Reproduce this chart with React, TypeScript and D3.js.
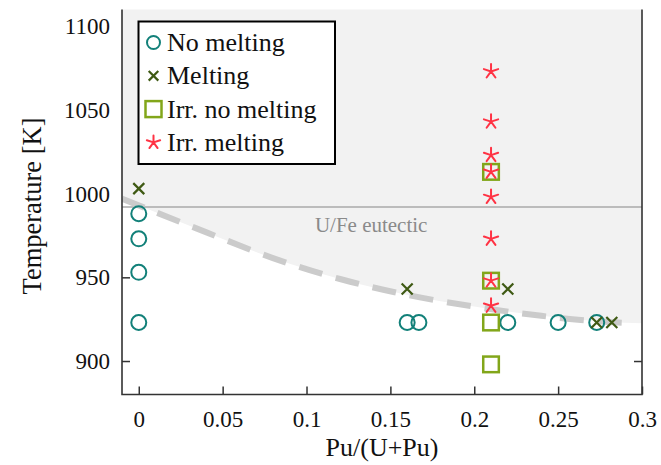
import { useEffect, useRef } from "react";
import * as d3 from "d3";

const W = 661;
const H = 465;
const FONT = "'Liberation Serif', 'Times New Roman', serif";

// series (x = Pu/(U+Pu), T in K)
const noMeltX = [0, 0, 0, 0, 0.16, 0.167, 0.22, 0.25, 0.273];
const noMeltT = [988, 973, 953, 923, 923, 923, 923, 923, 923];
const meltX = [0, 0.16, 0.22, 0.273, 0.282];
const meltT = [1003, 943, 943, 923, 923];
const irrNoMeltX = [0.21, 0.21, 0.21, 0.21];
const irrNoMeltT = [1013, 948, 923, 898];
const irrMeltX = [0.21, 0.21, 0.21, 0.21, 0.21, 0.21, 0.21, 0.21];
const irrMeltT = [1073, 1043, 1023, 1013, 998, 973, 948, 933];

// boundary of the shaded region (dashed) and eutectic line
const boundaryX = [-0.01, 0.04, 0.08, 0.12, 0.16, 0.2, 0.24, 0.27, 0.29, 0.3];
const boundaryT = [997, 977, 961.5, 949, 939.5, 932.5, 927, 924, 922.8, 922.6];
const eutecticT = 992;

const xTickValues = [0, 0.05, 0.1, 0.15, 0.2, 0.25, 0.3];
const xTickLabels = ["0", "0.05", "0.1", "0.15", "0.2", "0.25", "0.3"];
const yTickValues = [900, 950, 1000, 1050, 1100];
const yTickLabels = ["900", "950", "1000", "1050", "1100"];

const legendLabels = ["No melting", "Melting", "Irr. no melting", "Irr. melting"];

const C_CIRCLE = "#128079";
const C_CROSS = "#3f5a14";
const C_SQUARE = "#82a61a";
const C_STAR = "#ff3344";

function drawCircle(g, x, y, r) {
  g.append("circle").attr("cx", x).attr("cy", y).attr("r", r)
    .attr("fill", "none").attr("stroke", C_CIRCLE).attr("stroke-width", 2);
}

function drawCross(g, x, y, s) {
  g.append("path")
    .attr("d", `M${x - s},${y - s}L${x + s},${y + s}M${x - s},${y + s}L${x + s},${y - s}`)
    .attr("stroke", C_CROSS).attr("stroke-width", 2.2).attr("fill", "none");
}

function drawSquare(g, x, y, s) {
  g.append("rect").attr("x", x - s).attr("y", y - s).attr("width", 2 * s).attr("height", 2 * s)
    .attr("fill", "none").attr("stroke", C_SQUARE).attr("stroke-width", 2.5);
}

function drawStar(g, x, y, r) {
  let d = "";
  for (let k = 0; k < 5; k++) {
    const a = -Math.PI / 2 + (k * 2 * Math.PI) / 5;
    d += `M${x},${y}L${x + r * Math.cos(a)},${y + r * Math.sin(a)}`;
  }
  g.append("path").attr("d", d).attr("stroke", C_STAR).attr("stroke-width", 2)
    .attr("fill", "none").attr("stroke-linecap", "round");
}

function buildChart(svgEl) {
  const margin = { top: 9.5, right: 19, bottom: 70.5, left: 122 };
  const innerW = W - margin.left - margin.right;
  const innerH = H - margin.top - margin.bottom;

  const svg = d3.select(svgEl);
  svg.selectAll("*").remove();

  const defs = svg.append("defs");
  defs.append("clipPath").attr("id", "plot-clip")
    .append("rect").attr("width", innerW).attr("height", innerH);

  const g = svg.append("g").attr("transform", `translate(${margin.left},${margin.top})`);

  const x = d3.scaleLinear().domain([-0.01, 0.3]).range([0, innerW]);
  const y = d3.scaleLinear().domain([880, 1110]).range([innerH, 0]);

  const styleAxis = (ax) => {
    ax.attr("font-family", null);
    ax.select(".domain").remove();
    ax.selectAll("line").attr("stroke", "#333").attr("stroke-width", 1.5);
    ax.selectAll("text").attr("fill", "#111").style("font-family", FONT).style("font-size", "23px");
  };

  // ticks (drawn under the shaded region, inward)
  g.append("g").attr("transform", `translate(0,${innerH})`)
    .call(d3.axisBottom(x).tickValues(xTickValues).tickSizeInner(-8).tickSizeOuter(0)
      .tickPadding(12).tickFormat((d, i) => xTickLabels[i]))
    .call(styleAxis)
    .call(ax => ax.selectAll("text").attr("dy", "0.9em"));

  g.append("g")
    .call(d3.axisLeft(y).tickValues(yTickValues).tickSizeInner(-8).tickSizeOuter(0)
      .tickPadding(12).tickFormat((d, i) => yTickLabels[i]))
    .call(styleAxis);

  g.append("g").attr("transform", `translate(${innerW},0)`)
    .call(d3.axisRight(y).tickValues(yTickValues).tickSizeInner(-8).tickSizeOuter(0).tickFormat(() => ""))
    .call(styleAxis);

  const boundary = boundaryX.map((v, i) => ({ x: v, t: boundaryT[i] }));

  // shaded melting region
  const plot = g.append("g").attr("clip-path", "url(#plot-clip)");
  plot.append("path")
    .datum(boundary)
    .attr("fill", "#f2f2f2")
    .attr("d", d3.area().x(d => x(d.x)).y0(-5).y1(d => y(d.t)).curve(d3.curveMonotoneX));

  // eutectic line
  plot.append("line")
    .attr("x1", 0).attr("x2", innerW).attr("y1", y(eutecticT)).attr("y2", y(eutecticT))
    .attr("stroke", "#aaaaaa").attr("stroke-width", 1.5);

  plot.append("text")
    .attr("x", x(0.105)).attr("y", y(eutecticT) + 25)
    .attr("fill", "#8a8a8a")
    .style("font-family", FONT).style("font-size", "21px")
    .text("U/Fe eutectic");

  // dashed boundary
  plot.append("path")
    .datum(boundary.slice(0, boundary.length - 1))
    .attr("fill", "none")
    .attr("stroke", "#cbcbcb")
    .attr("stroke-width", 6)
    .attr("stroke-dasharray", "24 14")
    .attr("d", d3.line().x(d => x(d.x)).y(d => y(d.t)).curve(d3.curveMonotoneX));

  // axis lines: left, bottom, right
  g.append("path")
    .attr("d", `M0,0V${innerH}H${innerW}V0`)
    .attr("fill", "none").attr("stroke", "#333").attr("stroke-width", 1.6);

  // markers
  const mk = g.append("g");
  noMeltX.forEach((v, i) => drawCircle(mk, x(v), y(noMeltT[i]), 7.5));
  meltX.forEach((v, i) => drawCross(mk, x(v), y(meltT[i]), 5.5));
  irrNoMeltX.forEach((v, i) => drawSquare(mk, x(v), y(irrNoMeltT[i]), 7.8));
  irrMeltX.forEach((v, i) => drawStar(mk, x(v), y(irrMeltT[i]), 7.5));

  // legend
  const lg = svg.append("g").attr("transform", "translate(138.5,21.5)");
  lg.append("rect").attr("width", 196.5).attr("height", 142.5)
    .attr("fill", "#fff").attr("stroke", "#000").attr("stroke-width", 2);
  const rowH = 33.3;
  legendLabels.forEach((label, i) => {
    const cy = 21 + i * rowH;
    if (i === 0) drawCircle(lg, 15, cy, 6.5);
    if (i === 1) drawCross(lg, 15, cy, 4.8);
    if (i === 2) drawSquare(lg, 15, cy, 8);
    if (i === 3) drawStar(lg, 15, cy, 7);
    lg.append("text")
      .attr("x", 28.5).attr("y", cy + 8.5)
      .attr("fill", "#111")
      .style("font-family", FONT).style("font-size", "26px")
      .text(label);
  });

  // axis titles
  svg.append("text")
    .attr("x", margin.left + innerW / 2).attr("y", 456)
    .attr("text-anchor", "middle")
    .attr("fill", "#111")
    .style("font-family", FONT).style("font-size", "26px")
    .text("Pu/(U+Pu)");

  svg.append("text")
    .attr("transform", `translate(41,206) rotate(-90)`)
    .attr("text-anchor", "middle")
    .attr("fill", "#111")
    .style("font-family", FONT).style("font-size", "26.5px")
    .text("Temperature [K]");
}

export default function App() {
  const svgRef = useRef(null);

  useEffect(() => {
    if (svgRef.current) buildChart(svgRef.current);
  }, []);

  return (
    <svg
      ref={svgRef}
      width={W}
      height={H}
      style={{ position: "absolute", left: 0, top: 0, background: "#fff", display: "block" }}
    />
  );
}
